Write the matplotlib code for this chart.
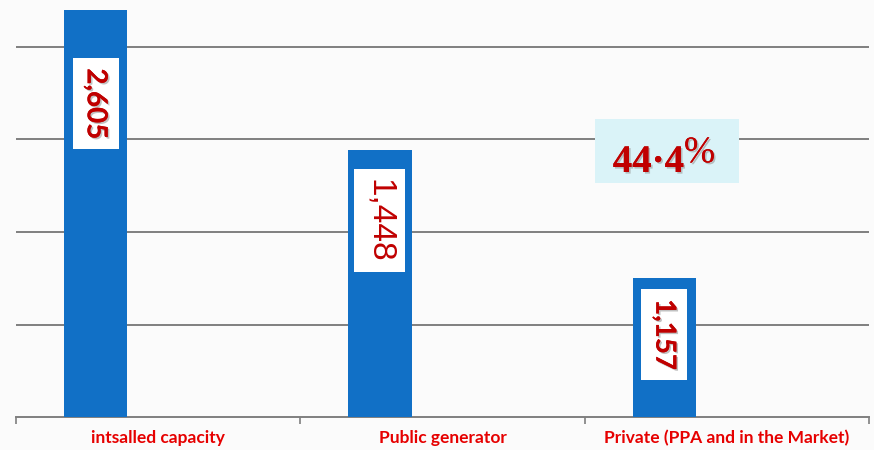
#! /usr/bin/env python

import numpy as np
import matplotlib
matplotlib.use("Agg")
import matplotlib.pyplot as plt
import matplotlib.patheffects as pe
from matplotlib.patches import Rectangle
from matplotlib.ticker import FixedLocator

# data as drawn in the picture (bar heights on the grid scale) and the printed labels
categories = ["intsalled capacity", "Public generator", "Private (PPA and in the Market)"]
bar_heights = [2605, 1445, 750]
value_labels = ["2,605", "1,448", "1,157"]
share_label = "44\u00b74"

BAR_COLOR = "#1170c6"
LABEL_RED = "#c00000"
CAT_RED = "#e60000"
GRID = "#7f7f7f"


def main():
    fig = plt.figure(figsize=(8.74, 4.5), dpi=100)
    fig.patch.set_facecolor("#fbfbfb")
    ax = fig.add_axes([16 / 874, 33 / 450, 853 / 874, 407 / 450])
    ax.set_facecolor("none")

    x = np.arange(len(categories))
    xbar = x - 0.22
    ax.bar(xbar, bar_heights, width=0.222, color=BAR_COLOR, zorder=3)

    ax.set_xlim(-0.5, len(categories) - 0.5)
    ax.set_ylim(0, 2200)

    # horizontal grid
    ax.set_yticks([500, 1000, 1500, 2000])
    ax.yaxis.grid(True, color=GRID, lw=1.4, zorder=0)
    ax.tick_params(axis="y", left=False, labelleft=False)

    # category boundaries as ticks, names centred in between
    ax.xaxis.set_major_locator(FixedLocator([-0.5, 0.5, 1.5, 2.5]))
    ax.xaxis.set_minor_locator(FixedLocator(list(x)))
    ax.set_xticklabels([])
    ax.set_xticklabels(categories, minor=True)
    ax.tick_params(axis="x", which="major", length=5, width=1.2, color=GRID, direction="out")
    ax.tick_params(axis="x", which="minor", length=0, pad=9)
    for lab in ax.get_xticklabels(minor=True):
        lab.set_fontfamily("Lato")
        lab.set_fontweight("bold")
        lab.set_fontsize(12.5)
        lab.set_color(CAT_RED)

    for side in ["top", "left", "right"]:
        ax.spines[side].set_visible(False)
    ax.spines["bottom"].set_color(GRID)
    ax.spines["bottom"].set_linewidth(1.4)

    # rotated value labels in white boxes inside the bars
    offsets = [-42, -21, -15]
    fams = ["Lato", "Liberation Sans", "Lato"]
    sizes = [20, 24, 20]
    weights = ["bold", "normal", "bold"]
    pads = [0.36, 0.3, 0.36]
    shadow = [pe.withSimplePatchShadow(offset=(1.2, -1.2), shadow_rgbFace="#999999", alpha=0.6), pe.Normal()]
    for i in range(len(categories)):
        top = min(bar_heights[i], 2200)
        t = ax.annotate(value_labels[i], xy=(xbar[i], top), xytext=(0, offsets[i]),
                        textcoords="offset points", ha="center", va="top",
                        rotation=-90, fontsize=sizes[i], fontweight=weights[i],
                        color=LABEL_RED, fontfamily=fams[i], zorder=5,
                        bbox=dict(boxstyle="square,pad=%.2f" % pads[i], fc="white", ec="none"))
        if weights[i] == "bold":
            t.set_path_effects(shadow)

    # share box
    ax.add_patch(Rectangle((0.679, 0.575), 0.169, 0.157, transform=ax.transAxes,
                           fc="#daf3f8", ec="none", zorder=4))
    serif = ["Liberation Serif", "DejaVu Serif"]
    ax.text(0.783, 0.602, share_label, transform=ax.transAxes, ha="right", va="baseline",
            fontsize=28, fontweight="bold", family=serif,
            color=LABEL_RED, zorder=5, path_effects=shadow)
    ax.text(0.783, 0.626, "%", transform=ax.transAxes, ha="left", va="baseline",
            fontsize=27, family=serif,
            color=LABEL_RED, zorder=5, path_effects=shadow)

    plt.savefig("out.png", dpi=100)


if __name__ == '__main__':
    main()
